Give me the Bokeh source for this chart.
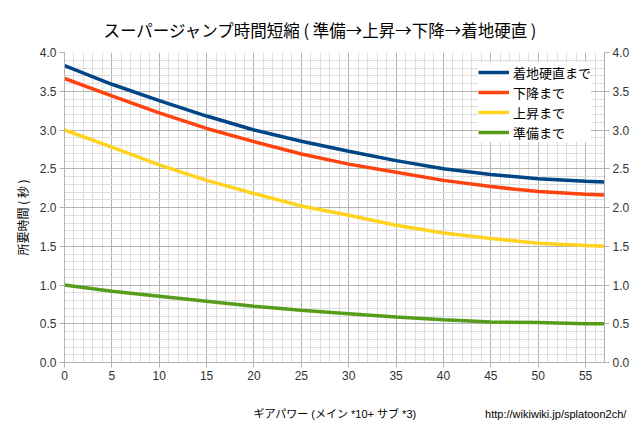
from bokeh.plotting import figure
from bokeh.models import (Legend, LegendItem, LinearAxis, Range1d, Title,
                          SingleIntervalTicker, FixedTicker, NumeralTickFormatter)
from bokeh.embed import file_html
from bokeh.resources import INLINE

# ---- data ----
gear_power = [0, 5, 10, 15, 20, 25, 30, 35, 40, 45, 50, 55, 57]
landing = [3.83, 3.59, 3.38, 3.18, 3.00, 2.855, 2.725, 2.605, 2.50, 2.425, 2.37, 2.34, 2.33]
descent = [3.665, 3.44, 3.22, 3.02, 2.85, 2.69, 2.56, 2.455, 2.35, 2.27, 2.205, 2.17, 2.16]
ascent = [3.0, 2.78, 2.55, 2.35, 2.18, 2.02, 1.90, 1.77, 1.67, 1.60, 1.54, 1.51, 1.50]
prep = [1.0, 0.92, 0.855, 0.79, 0.725, 0.673, 0.63, 0.587, 0.553, 0.523, 0.515, 0.50, 0.50]
series_names = ["着地硬直まで", "下降まで", "上昇まで", "準備まで"]
series_colors = ["#004586", "#ff420e", "#ffd320", "#579d1c"]
title_text = "スーパージャンプ時間短縮 ( 準備→上昇→下降→着地硬直 )"
x_label = "ギアパワー (メイン *10+ サブ *3)"
y_label = "所要時間 ( 秒 )"
url_text = "http://wikiwiki.jp/splatoon2ch/"

CJK = "Noto Sans CJK JP"
MIXED = "'Liberation Sans', 'Noto Sans CJK JP'"
W, H = 633, 422
p = figure(width=W, height=H, output_backend="svg", toolbar_location=None,
           x_range=Range1d(0, 57), y_range=Range1d(0, 4),
           min_border_left=64, min_border_right=29, min_border_top=52,
           min_border_bottom=H - 362)
p.outline_line_color = None

p.title.text = title_text
p.title.text_font = CJK
p.title.text_font_size = "16.5px"
p.title.text_font_style = "normal"
p.title.text_color = "black"
p.title.align = "left"
p.title.offset = 39
p.title.standoff = 21

xt = SingleIntervalTicker(interval=5, num_minor_ticks=5)
yt = SingleIntervalTicker(interval=0.5, num_minor_ticks=5)
p.xaxis.ticker = xt
p.yaxis.ticker = yt
p.xgrid.ticker = xt
p.ygrid.ticker = yt
for g in (p.xgrid, p.ygrid):
    g.grid_line_color = "#b3b3b3"
    g.grid_line_width = 1
    g.minor_grid_line_color = "#dddddd"
    g.minor_grid_line_width = 1

ry = LinearAxis(ticker=yt)
p.add_layout(ry, "right")
for ax in (p.xaxis[0], p.yaxis[0], ry):
    ax.axis_line_color = "#b3b3b3"
    ax.major_tick_line_color = "#b3b3b3"
    ax.major_tick_out = 5
    ax.major_tick_in = 0
    ax.minor_tick_line_color = None
    ax.major_label_text_font = "Liberation Sans"
    ax.major_label_text_font_size = "12px"
    ax.major_label_text_color = "#333333"
    ax.major_label_standoff = 3
p.yaxis[0].formatter = NumeralTickFormatter(format="0.0")
ry.formatter = NumeralTickFormatter(format="0.0")

ytitle = Title(text=y_label, text_font=CJK, text_font_size="12px",
               text_font_style="normal", text_color="black",
               align="left", offset=107, standoff=12)
p.add_layout(ytitle, "left")

# second row below the x axis: axis title (centred on the plot) and source url
XL_POS, URL_POS = 28.55, 51.85
cap = LinearAxis(ticker=FixedTicker(ticks=[XL_POS, URL_POS]),
                 major_label_overrides={XL_POS: x_label, URL_POS: url_text})
cap.axis_line_color = None
cap.major_tick_line_color = None
cap.minor_tick_line_color = None
cap.major_label_text_font = MIXED
cap.major_label_text_font_size = "11px"
cap.major_label_text_color = "black"
cap.major_label_standoff = 19
p.add_layout(cap, "below")

lines = []
for ys, c in zip([landing, descent, ascent, prep], series_colors):
    r = p.line(gear_power, ys, line_color=c, line_width=3.5)
    lines.append(r)

legend = Legend(items=[LegendItem(label=n, renderers=[r]) for n, r in zip(series_names, lines)],
                location=(414, 220), margin=0, padding=6, spacing=0,
                glyph_width=31, glyph_height=20, label_height=20, label_standoff=4,
                label_text_font=CJK, label_text_font_size="13px",
                label_text_color="black", border_line_color=None,
                background_fill_color="white", background_fill_alpha=1.0)
p.add_layout(legend, "center")

open("out.html", "w").write(file_html(p, INLINE))
